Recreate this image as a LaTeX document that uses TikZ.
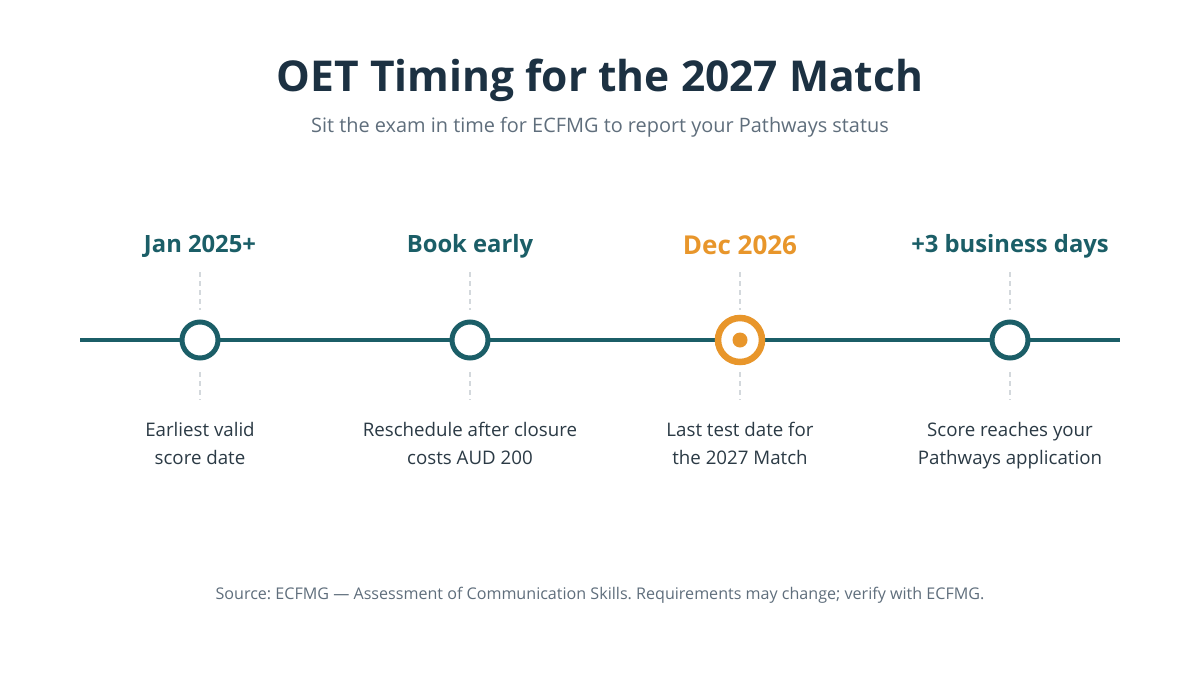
\documentclass[tikz,border=0pt]{standalone}
\usepackage{fontspec}
\setmainfont{Open Sans}
\frenchspacing
\definecolor{titlec}{HTML}{1C3142}
\definecolor{teal}{HTML}{1B5E67}
\definecolor{orangec}{HTML}{E8962B}
\definecolor{subc}{HTML}{5F6E7C}
\definecolor{bodyc}{HTML}{2B3A45}
\definecolor{dashc}{HTML}{D3D8DC}
\tikzset{
  toplabel/.style={font=\fontsize{23.8}{28}\selectfont\bfseries, text=teal, anchor=center},
  botlabel/.style={font=\fontsize{18.7}{28}\selectfont, text=bodyc, align=center, anchor=north},
  guide/.style={draw=dashc, line width=1.5pt, dash pattern=on 5pt off 4pt},
  marker/.style={circle, draw=teal, line width=5pt, fill=white, minimum size=36pt, inner sep=0pt},
  omarker/.style={circle, draw=orangec, line width=6.5pt, fill=white, minimum size=44pt, inner sep=0pt},
}
\begin{document}
\begin{tikzpicture}[x=1pt,y=-1pt]
\useasboundingbox[fill=white] (0,0) rectangle (1200,675);
\node[font=\fontsize{42.5}{48}\selectfont\bfseries, text=titlec] (title) at (600,80) {OET Timing for the 2027 Match};
\node[font=\fontsize{19.9}{24}\selectfont, text=subc] (sub) at (600,127) {Sit the exam in time for ECFMG to report your Pathways status};
\coordinate (L) at (80,340);
\coordinate (R) at (1120,340);
\draw[teal, line width=4pt] (L) -- (R);
% guides
\foreach \x/\n in {200/a,470/b,740/c,1010/d}{
  \coordinate (\n top) at (\x,272);
  \coordinate (\n tm) at (\x,310);
  \coordinate (\n bm) at (\x,372);
  \coordinate (\n bot) at (\x,400);
  \draw[guide] (\n top) -- (\n tm);
  \draw[guide] (\n bm) -- (\n bot);
}
\node[marker] (m1) at (200,340) {};
\node[marker] (m2) at (470,340) {};
\node[omarker] (m3) at (740,340) {};
\node[circle, fill=orangec, minimum size=15pt, inner sep=0pt] (m3dot) at (740,340) {};
\node[marker] (m4) at (1010,340) {};
\node[toplabel] (t1) at (200,246) {Jan 2025+};
\node[toplabel] (t2) at (470,246) {Book early};
\node[toplabel, text=orangec, font=\fontsize{26}{30}\selectfont\bfseries] (t3) at (740,245) {Dec 2026};
\node[toplabel] (t4) at (1010,246) {+3 business days};
\node[botlabel] (b1) at (200,419) {Earliest valid\\score date};
\node[botlabel] (b2) at (470,419) {Reschedule after closure\\costs AUD 200};
\node[botlabel] (b3) at (740,419) {Last test date for\\the 2027 Match};
\node[botlabel] (b4) at (1010,419) {Score reaches your\\Pathways application};
\node[font=\fontsize{16.1}{20}\selectfont, text=subc] (src) at (600,595) {Source: ECFMG — Assessment of Communication Skills. Requirements may change; verify with ECFMG.};
\end{tikzpicture}
\end{document}
